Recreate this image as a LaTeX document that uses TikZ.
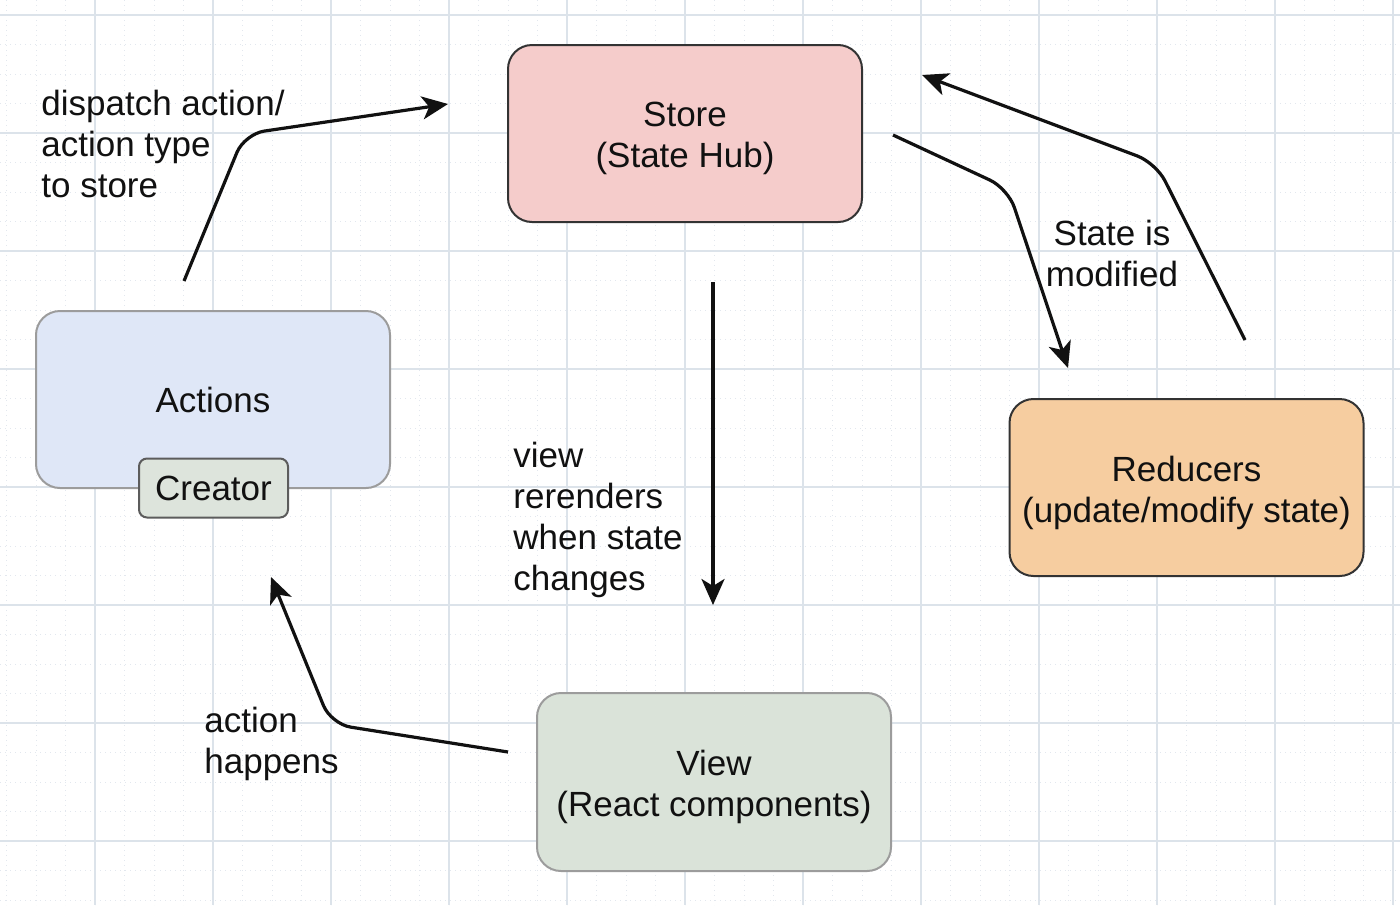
\documentclass[tikz,border=0pt]{standalone}
\usepackage{fontspec}
\setmainfont{Liberation Sans}
\usetikzlibrary{arrows.meta}
\definecolor{gridmaj}{HTML}{DCE3EA}
\definecolor{gridmin}{HTML}{E2E7EE}
\definecolor{storefill}{HTML}{F5CCCB}
\definecolor{actfill}{HTML}{DFE7F7}
\definecolor{creatorfill}{HTML}{DDE4DC}
\definecolor{redfill}{HTML}{F6CDA0}
\definecolor{viewfill}{HTML}{DAE3D9}
\definecolor{darkborder}{HTML}{333333}
\definecolor{lightborder}{HTML}{9C9C9C}
\definecolor{txt}{HTML}{111111}
\begin{document}
\begin{tikzpicture}[x=0.5pt,y=-0.5pt,
  box/.style={draw=darkborder, line width=1pt, rounded corners=12pt,
    minimum width=177pt, minimum height=88.5pt, align=center, text=txt,
    font=\fontsize{17.5}{20.5}\selectfont, inner sep=0pt},
  lbl/.style={text=txt, font=\fontsize{17.5}{20.5}\selectfont, inner sep=0pt},
  boxtext/.style={lbl, align=center, yshift=-2.5pt},
  conn/.style={draw=txt, line width=1.6pt, rounded corners=10pt,
    -{Stealth[length=13pt,width=11.5pt,inset=3.5pt]}},
  majorgrid/.style={draw=gridmaj, line width=0.8pt},
  minorgrid/.style={draw=gridmin, line width=0.5pt, dotted}]
\useasboundingbox (0,0) rectangle (1400,905);
\fill[white] (0,0) rectangle (1400,905);
% grid
\foreach \i in {0,...,47} {\draw[minorgrid] ({6.5+29.5*\i},0) -- ({6.5+29.5*\i},905);}
\foreach \i in {0,...,30} {\draw[minorgrid] (0,{15+29.5*\i}) -- (1400,{15+29.5*\i});}
\foreach \i in {0,...,11} {\draw[majorgrid] ({95+118*\i},0) -- ({95+118*\i},905);}
\foreach \i in {0,...,7} {\draw[majorgrid] (0,{15+118*\i}) -- (1400,{15+118*\i});}

% nodes
\node[box, fill=storefill, label={[boxtext]center:{Store\\(State Hub)}}] (store) at (685,133.5) {};
\node[box, fill=actfill, draw=lightborder] (actions) at (213,399.5) {Actions};
\node[box, fill=creatorfill, draw=darkborder!80, rounded corners=4pt,
  minimum width=74.5pt, minimum height=29.5pt] (creator) at (213.5,488) {Creator};
\node[box, fill=redfill, label={[boxtext]center:{Reducers\\(update/modify state)}}] (reducers) at (1186.5,487.5) {};
\node[box, fill=viewfill, draw=lightborder, minimum height=89pt,
  label={[boxtext]center:{View\\(React components)}}] (view) at (714,782) {};

% labels
\node[lbl, anchor=west, align=left] (ldispatch) at (41,144) {dispatch action/\\action type\\to store};
\node[lbl, align=center] (lmod) at (1112,253.5) {State is\\modified};
\node[lbl, anchor=west, align=left] (lview) at (513,520) {view\\rerenders\\when state\\changes};
\node[lbl, anchor=west, align=left] (lhappens) at (204,743.5) {action\\happens};

% connector end points
\coordinate (dA) at (184,281);
\coordinate (dS) at (448,104);
\coordinate (sR0) at (893,135);
\coordinate (sR1) at (1068,368);
\coordinate (rS0) at (1245,340);
\coordinate (rS1) at (922,75);
\coordinate (sV0) at (713,282);
\coordinate (sV1) at (713,605);
\coordinate (vA0) at (508,752);
\coordinate (vA1) at (271,577);

% connectors
\draw[conn] (dA) -- (244.5,134) -- (dS);
\draw[conn] (sR0) -- (1008,188.5) -- (sR1);
\draw[conn] (rS0) -- (1156,163) -- (rS1);
\draw[conn] (sV0) -- (sV1);
\draw[conn] (vA0) -- (331,724) -- (vA1);
\end{tikzpicture}
\end{document}
